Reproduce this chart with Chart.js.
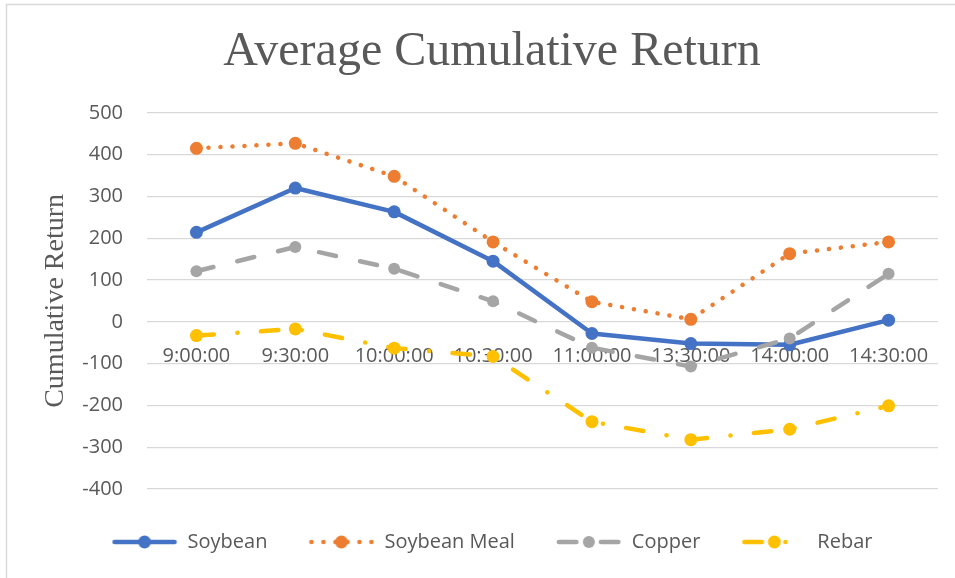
<!DOCTYPE html>
<html>
<head>
<meta charset="utf-8">
<script src="https://cdn.jsdelivr.net/npm/chart.js@4"></script>
<style>
  body { margin: 0; background: #fff; }
</style>
</head>
<body>
<canvas id="myChart" width="955" height="578"></canvas>
<script>
const times = ['9:00:00', '9:30:00', '10:00:00', '10:30:00', '11:00:00', '13:30:00', '14:00:00', '14:30:00'];
const soybean = [214, 320, 263, 145, -28, -52, -55, 4];
const soybeanMeal = [415, 427, 348, 191, 48, 6, 163, 191];
const copper = [121, 179, 127, 49, -62, -107, -40, 115];
const rebar = [-33, -17, -63, -83, -239, -282, -257, -201];
const yTicks = [-400, -300, -200, -100, 0, 100, 200, 300, 400, 500];

const textColor = '#595959';
const gridColor = '#D9D9D9';

// line + marker icon for the legend, same dash as the series
function legendIcon(color, dash, radius) {
    const c = document.createElement('canvas');
    c.width = 66;
    c.height = 16;
    const ctx = c.getContext('2d');
    ctx.strokeStyle = color;
    ctx.lineWidth = 4.5;
    ctx.lineCap = 'round';
    ctx.setLineDash(dash);
    ctx.beginPath();
    ctx.moveTo(3, 8);
    ctx.lineTo(63, 8);
    ctx.stroke();
    ctx.fillStyle = color;
    ctx.beginPath();
    ctx.arc(33, 8, radius, 0, Math.PI * 2);
    ctx.fill();
    return c;
}

const series = [
    { label: 'Soybean', data: soybean, color: '#4472C4', dash: [], radius: 6.5 },
    { label: 'Soybean Meal', data: soybeanMeal, color: '#ED7D31', dash: [0.1, 11.9], radius: 6.5 },
    { label: 'Copper', data: copper, color: '#A5A5A5', dash: [17.5, 24.5], radius: 6 },
    { label: 'Rebar', data: rebar, color: '#FFC000', dash: [17.5, 23.5, 0.1, 23.5], radius: 6.5 }
];
const icons = series.map(s => legendIcon(s.color, s.dash, s.radius));

const frame = {
    id: 'frame',
    beforeDraw(chart) {
        const ctx = chart.ctx;
        ctx.save();
        ctx.fillStyle = '#fff';
        ctx.fillRect(0, 0, chart.width, chart.height);
        ctx.strokeStyle = gridColor;
        ctx.lineWidth = 1.5;
        ctx.strokeRect(6.5, 4.5, chart.width + 20, chart.height + 20);
        ctx.restore();
    }
};

const ctx = document.getElementById('myChart').getContext('2d');
new Chart(ctx, {
    type: 'line',
    data: {
        labels: times,
        datasets: series.map((s, i) => ({
            label: s.label,
            data: s.data,
            borderColor: s.color,
            backgroundColor: s.color,
            borderWidth: 4.5,
            borderDash: s.dash,
            borderCapStyle: s.dash.length ? 'round' : 'butt',
            borderJoinStyle: 'round',
            pointRadius: s.radius,
            pointBorderWidth: 0,
            pointBackgroundColor: s.color,
            tension: 0,
            fill: false,
            order: series.length - i
        }))
    },
    options: {
        responsive: false,
        animation: false,
        layout: { padding: { left: 46, right: 17, top: 0, bottom: 16 } },
        plugins: {
            tooltip: { enabled: false },
            title: {
                display: true,
                text: 'Average Cumulative Return',
                color: textColor,
                font: { family: "'Liberation Serif', 'Times New Roman', serif", size: 48, weight: 'normal' },
                padding: { top: 23.5, bottom: 31.7 }
            },
            legend: {
                position: 'bottom',
                labels: {
                    usePointStyle: true,
                    pointStyleWidth: 66,
                    padding: 41,
                    color: textColor,
                    font: { family: "'Open Sans', sans-serif", size: 20 },
                    generateLabels: (chart) =>
                        Chart.defaults.plugins.legend.labels.generateLabels(chart)
                            .sort((a, b) => a.datasetIndex - b.datasetIndex)
                            .map(l => ({ ...l, pointStyle: icons[l.datasetIndex] }))
                }
            }
        },
        scales: {
            x: {
                type: 'category',
                position: { y: 0 },
                offset: true,
                grid: { display: false, drawTicks: false },
                border: { display: false },
                ticks: {
                    color: textColor,
                    padding: 22,
                    maxRotation: 0,
                    autoSkip: false,
                    font: { family: "'Open Sans', sans-serif", size: 20 }
                }
            },
            spacer: {
                type: 'category',
                axis: 'x',
                position: 'bottom',
                display: true,
                grid: { display: false, drawTicks: false },
                border: { display: false },
                ticks: { display: false },
                afterFit: (s) => { s.height = 2; }
            },
            y: {
                min: yTicks[0],
                max: yTicks[yTicks.length - 1],
                afterBuildTicks: (s) => { s.ticks = yTicks.map(v => ({ value: v })); },
                afterFit: (s) => { s.width = 101; },
                grid: { color: gridColor, lineWidth: 1.3, drawTicks: false },
                border: { display: false },
                ticks: {
                    color: textColor,
                    padding: 24,
                    font: { family: "'Open Sans', sans-serif", size: 20 }
                },
                title: {
                    display: true,
                    text: 'Cumulative Return',
                    color: textColor,
                    font: { family: "'Liberation Serif', 'Times New Roman', serif", size: 28 },
                    padding: { top: -6.8, bottom: 0 }
                }
            }
        }
    },
    plugins: [frame]
});
</script>
</body>
</html>
